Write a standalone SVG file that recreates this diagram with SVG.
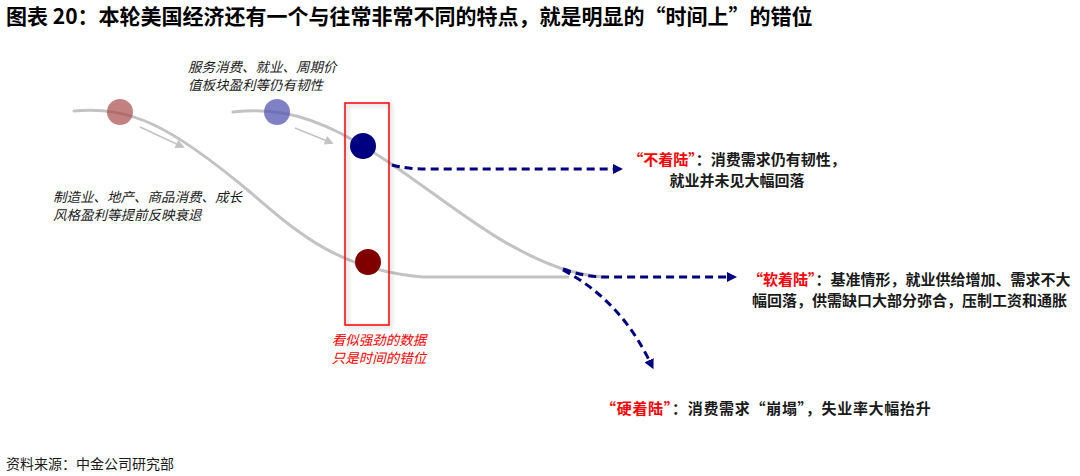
<svg xmlns="http://www.w3.org/2000/svg" width="1080" height="476" viewBox="0 0 1080 476">
  <style>
    text { font-family: "Noto Sans CJK SC", "Liberation Sans", sans-serif; fill: #1a1a1a; }
    .title { font-size: 21px; font-weight: bold; fill: #000; }
    .note { font-size: 13.5px; font-style: italic; }
    .rnote { font-size: 13.5px; font-style: italic; fill: #ff0000; }
    .lbl { font-size: 15px; font-weight: bold; }
    .red { fill: #ff0000; }
    .src { font-size: 14px; }
    .gcurve { fill: none; stroke: #c3c3c3; stroke-width: 3; stroke-linecap: round; }
    .garrow { fill: none; stroke: #c3c3c3; stroke-width: 1.5; }
    .dash { fill: none; stroke: #000080; stroke-width: 3; stroke-dasharray: 8 5; }
  </style>
  <defs>
    <marker id="navyHead" viewBox="0 0 10 10" refX="2" refY="5" markerWidth="10" markerHeight="10" markerUnits="userSpaceOnUse" orient="auto">
      <path d="M0,0 L10,5 L0,10 Z" fill="#000080"/>
    </marker>
    <marker id="grayHead" viewBox="0 0 10 10" refX="8" refY="5" markerWidth="10" markerHeight="9" markerUnits="userSpaceOnUse" orient="auto">
      <path d="M0,0 L10,5 L0,10 Z" fill="#c3c3c3"/>
    </marker>
    <filter id="shadow" x="-30%" y="-10%" width="160%" height="120%">
      <feDropShadow dx="2" dy="2" stdDeviation="2" flood-color="#000" flood-opacity="0.25"/>
    </filter>
  </defs>

  <rect width="1080" height="476" fill="#fff"/>

  <g id="title">
    <text class="title" x="6" y="24">图表 20：本轮美国经济还有一个与往常非常不同的特点，就是明显的“时间上”的错位</text>
  </g>

  <g id="curves">
    <path class="gcurve" d="M74,111 C130,106 170,125 250,192 C300,235 340,270 423,277 L568,277"/>
    <path class="gcurve" d="M233,112 C270,108 300,113 340,133 C420,175 480,240 560,268 Q585,276 605,277"/>
    <path class="garrow" d="M140,127 L183,147" marker-end="url(#grayHead)"/>
    <path class="garrow" d="M295,128 L332,143" marker-end="url(#grayHead)"/>
  </g>

  <g id="timing-box">
    <rect x="345" y="103" width="44" height="222" fill="none" stroke="#ff0000" stroke-width="1.5" filter="url(#shadow)"/>
    <text class="rnote" x="379" y="345" text-anchor="middle">看似强劲的数据</text>
    <text class="rnote" x="379" y="363" text-anchor="middle">只是时间的错位</text>
  </g>

  <g id="dot-goods">
    <circle cx="120" cy="112" r="13" fill="#a84a4a" fill-opacity="0.7"/>
  </g>
  <g id="dot-services">
    <circle cx="277" cy="112" r="13" fill="#5656b0" fill-opacity="0.75"/>
  </g>
  <g id="dot-navy">
    <circle cx="363" cy="146" r="13" fill="#000080"/>
  </g>
  <g id="dot-maroon">
    <circle cx="368" cy="262" r="13" fill="#800000"/>
  </g>

  <g id="connectors">
    <path class="dash" d="M392,165 Q405,169 430,169 L615,169" marker-end="url(#navyHead)"/>
    <path class="dash" d="M563,269 Q585,277 605,277 L729,277" marker-end="url(#navyHead)"/>
    <path class="dash" d="M563,270 Q620,300 650,362" marker-end="url(#navyHead)"/>
  </g>

  <g id="note-goods">
    <text class="note" x="53" y="202">制造业、地产、商品消费、成长</text>
    <text class="note" x="53" y="220">风格盈利等提前反映衰退</text>
  </g>
  <g id="note-services">
    <text class="note" x="188" y="72">服务消费、就业、周期价</text>
    <text class="note" x="188" y="90">值板块盈利等仍有韧性</text>
  </g>

  <g id="no-landing">
    <text class="lbl" x="737" y="165" text-anchor="middle"><tspan class="red">“不着陆”</tspan>：消费需求仍有韧性，</text>
    <text class="lbl" x="737" y="186" text-anchor="middle">就业并未见大幅回落</text>
  </g>
  <g id="soft-landing">
    <text class="lbl" x="748" y="285"><tspan class="red">“软着陆”</tspan>：基准情形，就业供给增加、需求不大</text>
    <text class="lbl" x="752" y="306">幅回落，供需缺口大部分弥合，压制工资和通胀</text>
  </g>
  <g id="hard-landing">
    <text class="lbl" x="601" y="414" letter-spacing="0.7"><tspan class="red">“硬着陆”</tspan>：消费需求“崩塌”，失业率大幅抬升</text>
  </g>

  <g id="source">
    <text class="src" x="6" y="469">资料来源：中金公司研究部</text>
  </g>
</svg>
